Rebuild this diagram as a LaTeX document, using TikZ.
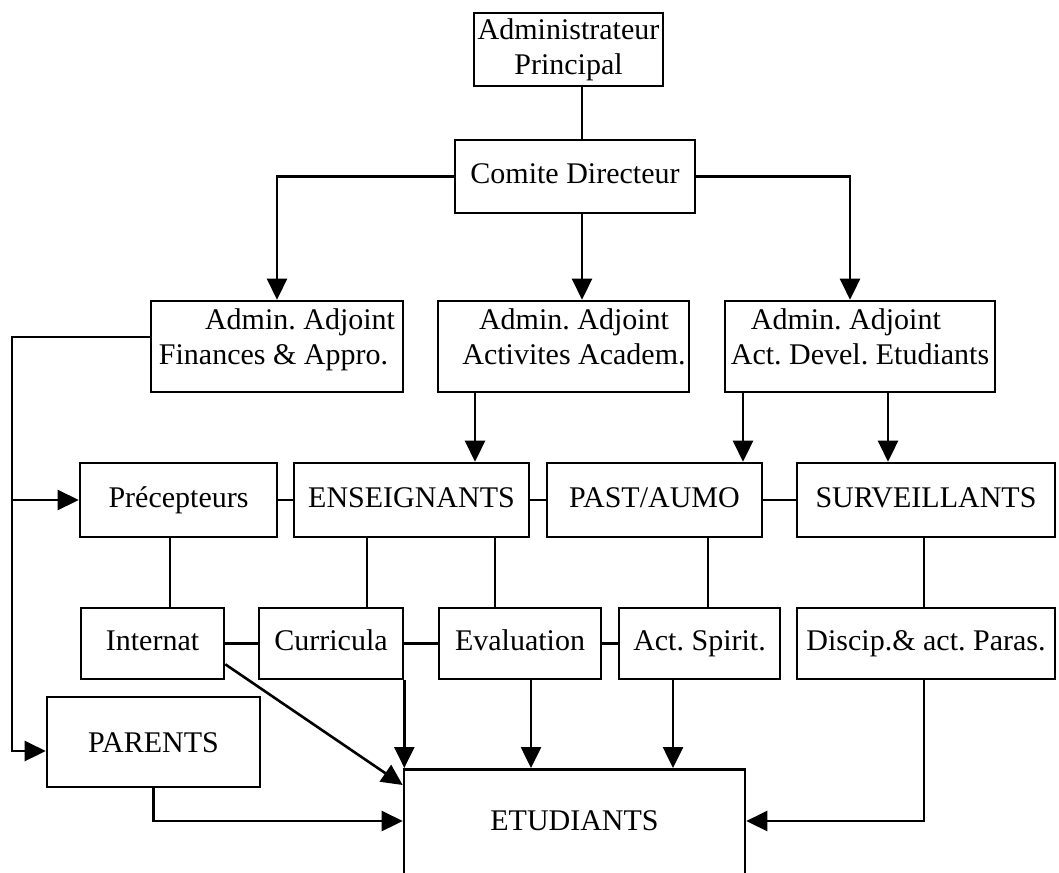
\documentclass[tikz,border=0pt]{standalone}
\usepackage{fontspec}
\setmainfont{Liberation Serif}
\usetikzlibrary{arrows.meta,calc}
\newcommand{\lowstrut}{\rule[-20pt]{0pt}{20pt}}
\frenchspacing
\begin{document}
\begin{tikzpicture}[x=1pt,y=-1pt,
  every node/.style={font=\fontsize{30}{35}\selectfont\frenchspacing, inner sep=0pt},
  box/.style={draw, line width=2.6pt},
  one/.style={text height=21pt, text depth=7pt},
  conn/.style={line width=2.6pt},
  arr/.style={conn, -{Triangle[length=21pt,width=20pt]}}]
\useasboundingbox (0,0) rectangle (1059,872);
\fill[white] (0,0) rectangle (1059,872);
\clip (0,0) rectangle (1059,872);
% column / row helper coordinates
\coordinate (c582) at (582,0);
\coordinate (c850) at (850,0);
\coordinate (c475) at (475,0);
\coordinate (c743) at (743,0);
\coordinate (c888) at (888,0);
\coordinate (c170) at (170,0);
\coordinate (c367) at (367,0);
\coordinate (c495) at (495,0);
\coordinate (c708) at (708,0);
\coordinate (c924) at (924,0);
\coordinate (c531) at (531,0);
\coordinate (c673) at (673,0);
\coordinate (y821) at (0,821);
\coordinate (lt) at (12,337);
\coordinate (lm) at (12,500);
\coordinate (lb) at (12,751);
% top
\node[box, minimum width=189pt, minimum height=73pt, align=center] (ap) at (568.5,49.5) {Administrateur\\Principal};
\node[box, one, minimum width=240pt, minimum height=73pt] (com) at (575,176.5) {Comite Directeur};
% adjoints
\node[box, minimum width=252pt, minimum height=91pt, align=right] (fin) at (277,346.5) {Admin. Adjoint\\Finances \& Appro.\hspace*{7pt}\lowstrut};
\node[box, minimum width=251pt, minimum height=91pt, align=center] (aca) at (563.5,346.5) {\hspace*{21pt}Admin. Adjoint\\\hspace*{21pt}Activites Academ.\lowstrut};
\node[box, minimum width=270pt, minimum height=91pt, align=left] (dev) at (860,346.5) {\hspace*{20pt}Admin. Adjoint\\Act. Devel. Etudiants\lowstrut};
% row 2
\node[box, one, minimum width=197pt, minimum height=74pt] (prec) at (178.5,500) {Précepteurs};
\node[box, one, minimum width=235pt, minimum height=74pt] (ens) at (411.5,500) {ENSEIGNANTS};
\node[box, one, minimum width=215pt, minimum height=74pt] (past) at (654.5,500) {PAST/AUMO};
\node[box, one, minimum width=258pt, minimum height=74pt] (surv) at (926,500) {SURVEILLANTS};
% row 3
\node[box, one, minimum width=143pt, minimum height=71pt] (int) at (152.5,643.5) {Internat};
\node[box, one, minimum width=144pt, minimum height=71pt] (cur) at (331,643.5) {Curricula};
\node[box, one, minimum width=162pt, minimum height=71pt] (eva) at (520,643.5) {Evaluation};
\node[box, one, minimum width=161pt, minimum height=71pt] (act) at (699.5,643.5) {Act. Spirit.};
\node[box, one, minimum width=258pt, minimum height=71pt] (dis) at (926,643.5) {Discip.\& act. Paras.};
% parents, etudiants
\node[box, text height=21pt, text depth=0pt, minimum width=213pt, minimum height=90pt] (par) at (153.5,742) {PARENTS};
\node[box, minimum width=341pt, minimum height=132pt, anchor=north] (etu) at (574.5,768) {};
\node[one] (etut) at (574.5,823) {ETUDIANTS};
% connectors
\draw[conn] (ap.south -| c582) -- (com.north -| c582);
\draw[arr] (com.west) -| (fin.north);
\draw[arr] (com.south -| c582) -- (aca.north -| c582);
\draw[arr] (com.east) -| (dev.north -| c850);
\draw[arr] (aca.south -| c475) -- (ens.north -| c475);
\draw[arr] (dev.south -| c743) -- (past.north -| c743);
\draw[arr] (dev.south -| c888) -- (surv.north -| c888);
\draw[arr] (fin.west |- lt) -- (lt) -- (lb) -- (par.west |- lb);
\draw[arr] (lm) -- (prec.west);
\draw[conn] (prec.east) -- (ens.west);
\draw[conn] (ens.east) -- (past.west);
\draw[conn] (past.east) -- (surv.west);
\draw[conn] (prec.south -| c170) -- (int.north -| c170);
\draw[conn] (ens.south -| c367) -- (cur.north -| c367);
\draw[conn] (ens.south -| c495) -- (eva.north -| c495);
\draw[conn] (past.south -| c708) -- (act.north -| c708);
\draw[conn] (surv.south -| c924) -- (dis.north -| c924);
\draw[conn] (int.east) -- (cur.west);
\draw[conn] (cur.east) -- (eva.west);
\draw[conn] (eva.east) -- (act.west);
\draw[arr] (cur.south east) -- (cur.south east |- etu.north);
\draw[arr] (eva.south -| c531) -- (etu.north -| c531);
\draw[arr] (act.south -| c673) -- (etu.north -| c673);
\draw[arr] (dis.south -| c924) -- (c924 |- y821) -- (etu.east |- y821);
\draw[arr] (par.south) -- (par.south |- y821) -- (etu.west |- y821);
\draw[arr] ($(int.south east)+(0,-16)$) -- ($(etu.north west)+(0,17)$);
\end{tikzpicture}
\end{document}
